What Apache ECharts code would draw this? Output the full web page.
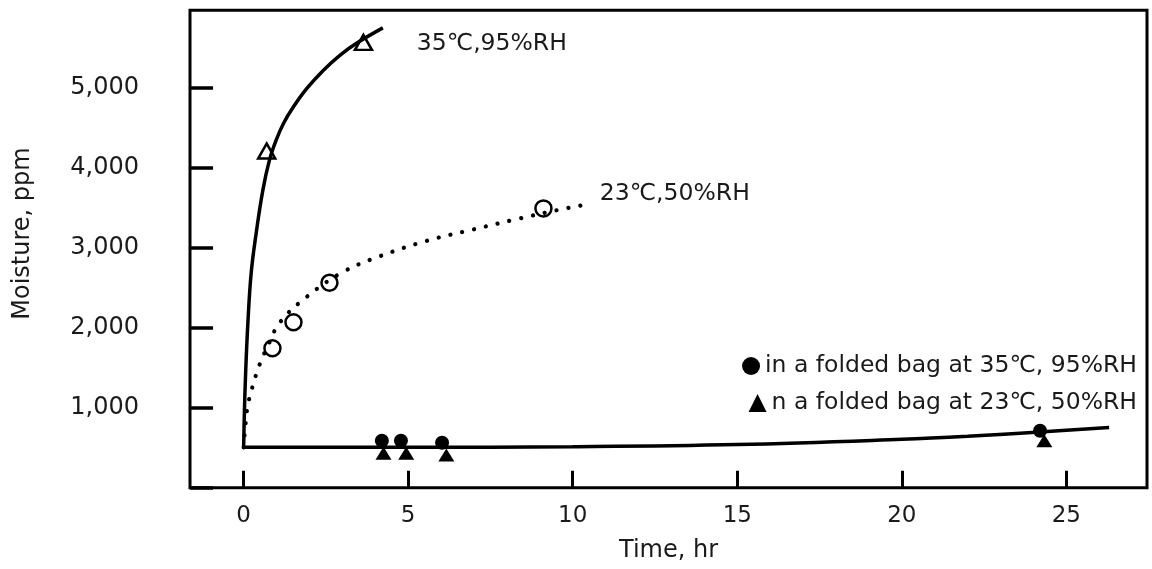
<!DOCTYPE html>
<html>
<head>
<meta charset="utf-8">
<script src="https://cdn.jsdelivr.net/npm/echarts@6/dist/echarts.min.js"></script>
<style>
  html, body { margin: 0; padding: 0; background: #fff; }
  #main { width: 1152px; height: 569px; }
</style>
</head>
<body>
<div id="main"></div>
<script>
// open exposure at 35℃,95%RH : fitted curve + measured points
const curve35 = [[0, 505], [0.02, 900], [0.06, 1430], [0.128, 2055], [0.228, 2680], [0.38, 3180],
  [0.584, 3721], [0.784, 4096], [0.988, 4346], [1.21, 4555], [1.514, 4763], [1.921, 4993],
  [2.426, 5221], [2.933, 5410], [3.44, 5560], [4.23, 5750]]
const points35 = [[0.7, 4210], [3.64, 5568]]

// open exposure at 23℃,50%RH : dotted curve + measured points
const curve23 = [[0, 505], [0.05, 760], [0.12, 1013], [0.26, 1250], [0.48, 1534], [0.745, 1784],
  [1.11, 2071], [1.92, 2388], [3.03, 2700], [4.15, 2896], [5.57, 3088], [6.98, 3230],
  [8.4, 3368], [9.52, 3470], [10.58, 3555]]
const points23 = [[0.875, 1743], [1.514, 2068], [2.608, 2563], [9.11, 3493]]

// folded bag curve and its points
const curveBag = [[0, 505], [5, 506], [10, 513], [15, 540], [20, 605], [22, 643], [24.2, 697], [26.3, 752]]
const bag35 = [[4.2, 588], [4.78, 588], [6.03, 562], [24.2, 713]]
const bag23 = [[4.25, 430], [4.94, 430], [6.16, 409], [24.33, 588]]

const label35 = '35℃,95%RH'
const label23 = '23℃,50%RH'
const nameBag35 = 'in a folded bag at 35℃, 95%RH'
const nameBag23 = 'n a folded bag at 23℃, 50%RH'

const FONT = 'DejaVu Sans'
const TXT = '#1a1a1a'

const chart = echarts.init(document.getElementById('main'))

const legendText = { fontSize: 23.5, fontFamily: FONT, color: TXT }

const options = {
  animation: false,
  textStyle: { fontFamily: FONT, color: TXT },
  grid: {
    left: 190,
    right: 5,
    top: 10.3,
    bottom: 81.3,
    show: true,
    borderColor: '#000',
    borderWidth: 3,
    backgroundColor: 'transparent'
  },
  legend: [
    {
      data: [{ name: nameBag35, icon: 'circle' }],
      right: 10,
      top: 349,
      itemWidth: 18,
      itemHeight: 18,
      selectedMode: false,
      textStyle: legendText
    },
    {
      data: [{ name: nameBag23, icon: 'triangle' }],
      right: 10,
      top: 386,
      itemWidth: 18,
      itemHeight: 18,
      selectedMode: false,
      textStyle: legendText
    }
  ],
  xAxis: {
    type: 'value',
    min: -1.63,
    max: 27.45,
    minInterval: 5,
    maxInterval: 5,
    name: 'Time, hr',
    nameLocation: 'middle',
    nameGap: 51,
    nameTextStyle: { fontSize: 24, fontFamily: FONT, color: TXT },
    axisLine: { show: false, onZero: false },
    axisTick: { show: true, inside: true, length: 17, lineStyle: { color: '#000', width: 3 } },
    axisLabel: {
      margin: 17,
      fontSize: 23,
      color: TXT,
      showMinLabel: false,
      showMaxLabel: false,
      formatter: v => (Math.abs(v % 5) < 1e-9 ? String(v) : '')
    },
    splitLine: { show: false }
  },
  yAxis: {
    type: 'value',
    min: 0,
    max: 5970,
    interval: 1000,
    name: 'Moisture, ppm',
    nameLocation: 'middle',
    nameGap: 155,
    nameTextStyle: { fontSize: 24, fontFamily: FONT, color: TXT, padding: [0, 0, 0, 31] },
    axisLine: { show: false, onZero: false },
    axisTick: { show: true, inside: true, length: 23, lineStyle: { color: '#000', width: 3.5 } },
    axisLabel: {
      margin: 51,
      fontSize: 24,
      color: TXT,
      showMaxLabel: false,
      formatter: v => (v > 0 && v % 1000 === 0 ? v.toLocaleString('en-US') : '')
    },
    splitLine: { show: false }
  },
  series: [
    {
      name: label35,
      type: 'line',
      data: curve35,
      smooth: 0.4,
      showSymbol: false,
      lineStyle: { color: '#000', width: 3.5 },
      endLabel: {
        show: true,
        formatter: label35,
        offset: [26, 16],
        fontSize: 23.5,
        fontFamily: FONT,
        color: TXT
      },
      z: 2
    },
    {
      name: label23,
      type: 'line',
      data: curve23,
      smooth: 0.4,
      showSymbol: false,
      lineStyle: { color: '#000', width: 4.2, type: [0.1, 12], cap: 'round' },
      endLabel: {
        show: true,
        formatter: label23,
        offset: [0, -10],
        fontSize: 23.5,
        fontFamily: FONT,
        color: TXT
      },
      z: 2
    },
    {
      name: 'bag',
      type: 'line',
      data: curveBag,
      smooth: 0.4,
      showSymbol: false,
      lineStyle: { color: '#000', width: 3.5 },
      z: 2
    },
    {
      name: 'pts35',
      type: 'scatter',
      data: points35,
      symbol: 'triangle',
      symbolSize: [17, 15],
      itemStyle: { color: 'rgba(0,0,0,0)', borderColor: '#000', borderWidth: 2.5, opacity: 1 },
      z: 3
    },
    {
      name: 'pts23',
      type: 'scatter',
      data: points23,
      symbol: 'circle',
      symbolSize: 16,
      itemStyle: { color: 'rgba(0,0,0,0)', borderColor: '#000', borderWidth: 2.5, opacity: 1 },
      z: 3
    },
    {
      name: nameBag35,
      type: 'scatter',
      data: bag35,
      symbol: 'circle',
      symbolSize: 14,
      itemStyle: { color: '#000', opacity: 1 },
      z: 3
    },
    {
      name: nameBag23,
      type: 'scatter',
      data: bag23,
      symbol: 'triangle',
      symbolSize: [16, 13],
      itemStyle: { color: '#000', opacity: 1 },
      z: 3
    }
  ]
}

chart.setOption(options)
</script>
</body>
</html>
